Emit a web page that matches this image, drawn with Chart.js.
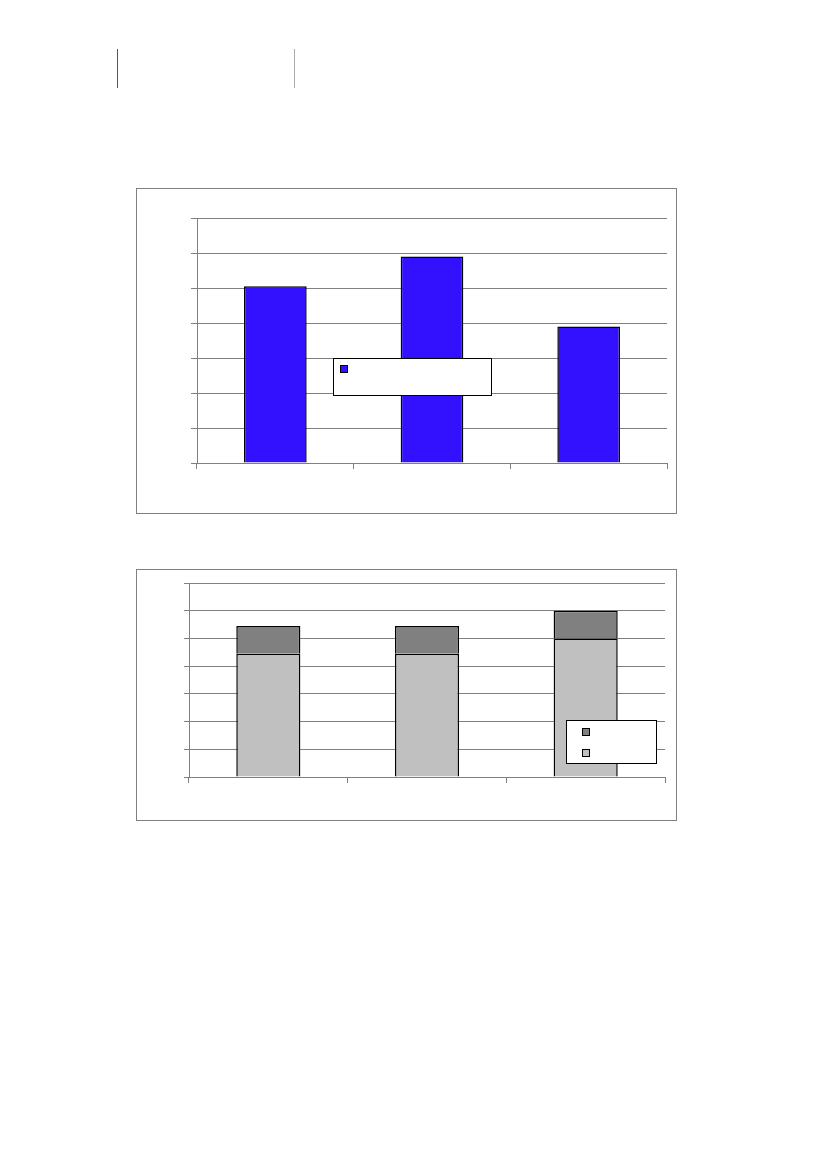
<!DOCTYPE html>
<html>
<head>
<meta charset="utf-8">
<script src="https://cdn.jsdelivr.net/npm/chart.js@4.4.0/dist/chart.umd.min.js"></script>
<style>
  body { margin: 0; background: #fff; width: 827px; height: 1169px; position: relative; font-family: "Liberation Sans", Arial, sans-serif; }
  .vline { position: absolute; top: 49px; height: 39px; width: 1px; }
  .frame { position: absolute; box-sizing: border-box; border: 1px solid #808080; }
  canvas { position: absolute; }
</style>
</head>
<body>
<div class="vline" style="left:117px;background:#555;"></div>
<div class="vline" style="left:294px;background:#aaa;"></div>

<div class="frame" style="left:136px;top:188px;width:541px;height:326px;"></div>
<canvas id="chart1" width="541" height="325" style="left:136px;top:188px;"></canvas>

<div class="frame" style="left:136px;top:569px;width:541px;height:252px;"></div>
<canvas id="chart2" width="541" height="252" style="left:136px;top:569px;"></canvas>

<script>
// categories (no labels shown in the picture)
const categories = ['1', '2', '3'];

// top chart: single series
const blueValues = [5.05, 5.9, 3.9];

// bottom chart: stacked series
const lightValues = [4.45, 4.45, 5];
const darkValues = [1, 1, 1];

// value axis
const yMax = 7;
const yStep = 1;

// legend box drawn inside the plot, swatches only
function makeLegend(box, order) {
  return {
    id: 'legendBox',
    afterDraw(chart) {
      const ctx = chart.ctx;
      ctx.save();
      ctx.fillStyle = '#fff';
      ctx.fillRect(box.x, box.y, box.w, box.h);
      ctx.strokeStyle = '#000';
      ctx.lineWidth = 1;
      ctx.strokeRect(box.x + 0.5, box.y + 0.5, box.w, box.h);
      order.forEach((dsIndex, i) => {
        const ds = chart.data.datasets[dsIndex];
        const sx = box.sx, sy = box.sy + i * box.gap;
        ctx.fillStyle = ds.backgroundColor;
        ctx.fillRect(sx, sy, 7, 7);
        ctx.strokeRect(sx + 0.5, sy + 0.5, 7, 7);
      });
      ctx.restore();
    }
  };
}

function axes(tickY, stacked) {
  return {
    x: {
      stacked: stacked,
      ticks: { display: false },
      grid: { drawOnChartArea: false, drawTicks: true, tickLength: 6, color: '#808080' },
      border: { display: true, color: '#808080' }
    },
    y: {
      stacked: stacked,
      min: 0,
      max: yMax,
      ticks: { display: false, stepSize: yStep },
      grid: { color: '#808080', tickLength: tickY },
      border: { display: true, color: '#808080' }
    }
  };
}

new Chart(document.getElementById('chart1'), {
  type: 'bar',
  data: {
    labels: categories,
    datasets: [{
      data: blueValues,
      backgroundColor: '#3311ff',
      borderColor: '#000',
      borderWidth: 1.5,
      barPercentage: 0.8,
      categoryPercentage: 0.5
    }]
  },
  options: {
    responsive: false,
    animation: false,
    layout: { padding: { left: 55, top: 30, right: 10, bottom: 44 } },
    plugins: { legend: { display: false }, tooltip: { enabled: false } },
    scales: axes(6, false)
  },
  plugins: [makeLegend({ x: 197, y: 170, w: 158, h: 37, sx: 204, sy: 177, gap: 0 }, [0])]
});

new Chart(document.getElementById('chart2'), {
  type: 'bar',
  data: {
    labels: categories,
    datasets: [{
      data: lightValues,
      backgroundColor: '#c0c0c0',
      borderColor: '#000',
      borderWidth: 1.5,
      barPercentage: 0.8,
      categoryPercentage: 0.505
    }, {
      data: darkValues,
      backgroundColor: '#808080',
      borderColor: '#000',
      borderWidth: 1.5,
      barPercentage: 0.8,
      categoryPercentage: 0.505
    }]
  },
  options: {
    responsive: false,
    animation: false,
    layout: { padding: { left: 48, top: 14, right: 12, bottom: 38 } },
    plugins: { legend: { display: false }, tooltip: { enabled: false } },
    scales: axes(5, true)
  },
  plugins: [makeLegend({ x: 430, y: 151, w: 90, h: 43, sx: 446, sy: 159, gap: 21 }, [1, 0])]
});
</script>
</body>
</html>
